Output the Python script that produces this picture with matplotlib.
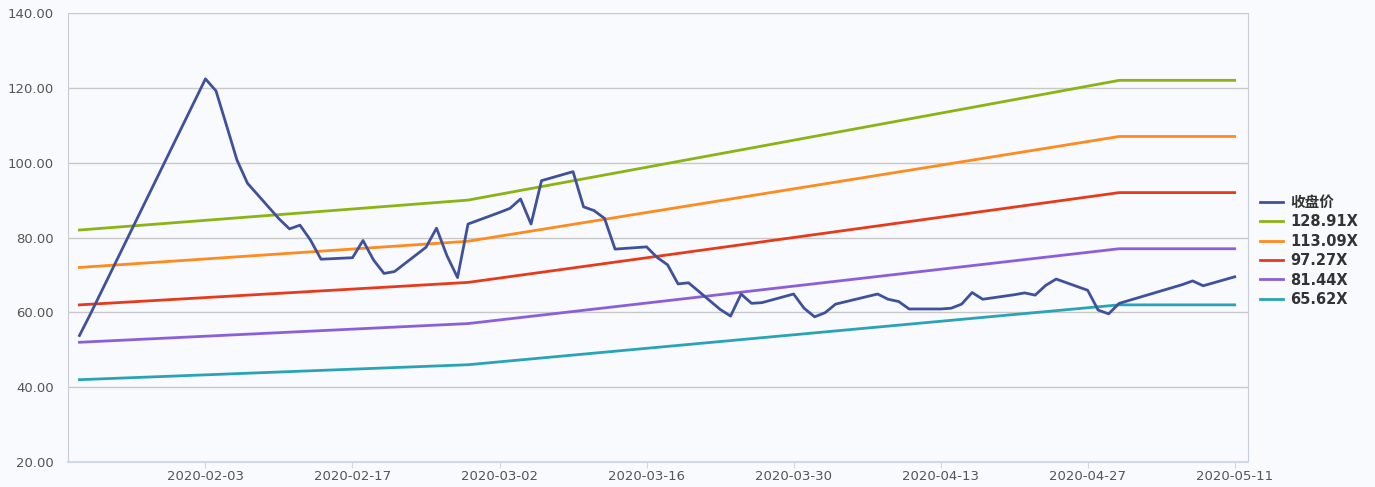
import numpy as np
import pandas as pd
import matplotlib.pyplot as plt
import matplotlib.dates as mdates

# 收盘价 (trading days)
price_dates = [
    "2020-01-22", "2020-01-23", "2020-02-03", "2020-02-04", "2020-02-05", "2020-02-06", "2020-02-07",
    "2020-02-10", "2020-02-11", "2020-02-12", "2020-02-13", "2020-02-14",
    "2020-02-17", "2020-02-18", "2020-02-19", "2020-02-20", "2020-02-21",
    "2020-02-24", "2020-02-25", "2020-02-26", "2020-02-27", "2020-02-28",
    "2020-03-02", "2020-03-03", "2020-03-04", "2020-03-05", "2020-03-06",
    "2020-03-09", "2020-03-10", "2020-03-11", "2020-03-12", "2020-03-13",
    "2020-03-16", "2020-03-17", "2020-03-18", "2020-03-19", "2020-03-20",
    "2020-03-23", "2020-03-24", "2020-03-25", "2020-03-26", "2020-03-27",
    "2020-03-30", "2020-03-31", "2020-04-01", "2020-04-02", "2020-04-03",
    "2020-04-07", "2020-04-08", "2020-04-09", "2020-04-10",
    "2020-04-13", "2020-04-14", "2020-04-15", "2020-04-16", "2020-04-17",
    "2020-04-20", "2020-04-21", "2020-04-22", "2020-04-23", "2020-04-24",
    "2020-04-27", "2020-04-28", "2020-04-29", "2020-04-30",
    "2020-05-06", "2020-05-07", "2020-05-08", "2020-05-11",
]
price = [
    53.8, 59.3, 122.4, 119.2, 110.0, 100.7, 94.5,
    85.0, 82.3, 83.3, 79.3, 74.2,
    74.6, 79.2, 74.0, 70.4, 70.9,
    77.4, 82.5, 75.1, 69.3, 83.6,
    86.7, 87.8, 90.3, 83.6, 95.2,
    97.6, 88.2, 87.2, 85.1, 76.9,
    77.5, 74.7, 72.7, 67.6, 67.9,
    60.8, 59.0, 64.9, 62.4, 62.6,
    64.9, 61.1, 58.8, 59.9, 62.2,
    64.9, 63.5, 62.9, 60.9,
    60.9, 61.1, 62.2, 65.3, 63.5,
    64.7, 65.2, 64.6, 67.2, 68.9,
    65.9, 60.6, 59.6, 62.4,
    67.4, 68.4, 67.1, 69.5,
]

# PE bands
band_dates = ["2020-01-22", "2020-02-28", "2020-04-30", "2020-05-11"]
band_129 = [82, 90, 122, 122]
band_113 = [72, 79, 107, 107]
band_97 = [62, 68, 92, 92]
band_81 = [52, 57, 77, 77]
band_66 = [42, 46, 62, 62]

bands = [
    ("128.91X", band_129, "#8cb314"),
    ("113.09X", band_113, "#ff8a1e"),
    ("97.27X", band_97, "#e8391a"),
    ("81.44X", band_81, "#8b5fdc"),
    ("65.62X", band_66, "#2ba3b6"),
]

pd_price = pd.to_datetime(price_dates)
pd_band = pd.to_datetime(band_dates)

bg = "#f8fafd"
fig = plt.figure(figsize=(13.75, 4.87), dpi=100, facecolor=bg)
ax = fig.add_axes([0.0495, 0.0513, 0.858, 0.922], facecolor=bg)

ax.plot(pd_price, price, color="#40519c", lw=2.0, label="收盘价", zorder=5)
for name, vals, c in bands:
    ax.plot(pd_band, vals, color=c, lw=2.0, label=name, zorder=4)

ax.set_ylim(20, 140)
ax.set_yticks(np.arange(20, 141, 20))
ax.yaxis.set_major_formatter(plt.FuncFormatter(lambda v, p: f"{v:.2f}"))
ax.set_xlim(pd.Timestamp("2020-01-20 22:00"), pd.Timestamp("2020-05-12 06:00"))
ax.set_xticks(pd.date_range("2020-02-03", "2020-05-11", freq="14D"))
ax.xaxis.set_major_formatter(mdates.DateFormatter("%Y-%m-%d"))

ax.grid(axis="y", color="#c8c8c8", lw=1.0)
ax.set_axisbelow(True)
for s in ["top", "right", "left"]:
    ax.spines[s].set_color("#c8ccd4")
ax.spines["top"].set_visible(False)
ax.spines["bottom"].set_color("#cfd8e6")
ax.spines["bottom"].set_linewidth(1.5)
ax.tick_params(axis="y", length=0, pad=10, labelsize=9.5, labelcolor="#555555")
ax.tick_params(axis="x", length=4, color="#cfd8e6", pad=2, labelsize=9.5, labelcolor="#555555")

leg = ax.legend(loc="center left", bbox_to_anchor=(0.999, 0.47), frameon=False,
                handlelength=1.6, handletextpad=0.5, labelspacing=0.3,
                prop={"family": ["DejaVu Sans", "Noto Sans CJK SC"], "weight": "bold", "size": 10.5})
for t in leg.get_texts():
    t.set_color("#333333")

fig.savefig("out.png", dpi=100, facecolor=bg)
